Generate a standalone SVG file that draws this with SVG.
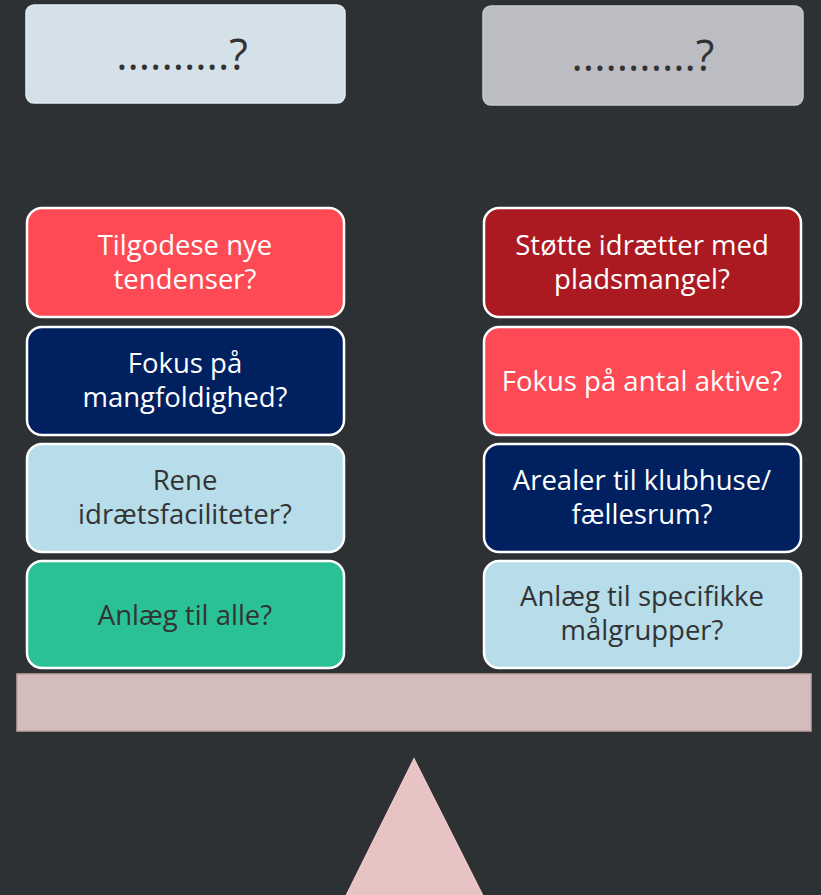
<svg xmlns="http://www.w3.org/2000/svg" width="821" height="895" viewBox="0 0 821 895">
<style>
.t{font-family:"Open Sans","Liberation Sans",sans-serif;font-size:27.5px;text-anchor:middle}
.w{fill:#ffffff}
.d{fill:#333333}
.box{stroke:#ffffff;stroke-width:2.5}
.top{font-family:"Open Sans","Liberation Sans",sans-serif;font-size:43px;text-anchor:middle;fill:#333333}
</style>
<rect width="821" height="895" fill="#2e3134"/>
<g id="top-left">
<rect x="26" y="5" width="319" height="98" rx="8" fill="#d5e1e8" stroke="#e4ecf1" stroke-width="1.5"/>
<text class="top" x="182" y="70">..........?</text>
</g>
<g id="top-right">
<rect x="483" y="6" width="320" height="99" rx="8" fill="#bcbdc2" stroke="#c8c9cd" stroke-width="1.5"/>
<text class="top" x="643" y="71">...........?</text>
</g>
<g id="l1">
<rect class="box" x="27" y="208" width="317" height="109" rx="15" fill="#fe4a54"/>
<text class="t w" x="185" y="255">Tilgodese nye</text>
<text class="t w" x="185" y="289">tendenser?</text>
</g>
<g id="l2">
<rect class="box" x="27" y="327" width="317" height="108" rx="15" fill="#002060"/>
<text class="t w" x="185" y="373">Fokus på</text>
<text class="t w" x="185" y="407">mangfoldighed?</text>
</g>
<g id="l3">
<rect class="box" x="27" y="444" width="317" height="108" rx="15" fill="#b6dde9"/>
<text class="t d" x="185" y="490">Rene</text>
<text class="t d" x="185" y="524">idrætsfaciliteter?</text>
</g>
<g id="l4">
<rect class="box" x="27" y="561" width="317" height="107" rx="15" fill="#2bc196"/>
<text class="t d" x="185" y="625">Anlæg til alle?</text>
</g>
<g id="r1">
<rect class="box" x="484" y="208" width="317" height="109" rx="15" fill="#ac1a21"/>
<text class="t w" x="642" y="255">Støtte idrætter med</text>
<text class="t w" x="642" y="289">pladsmangel?</text>
</g>
<g id="r2">
<rect class="box" x="484" y="327" width="317" height="108" rx="15" fill="#fe4a54"/>
<text class="t w" x="642" y="391">Fokus på antal aktive?</text>
</g>
<g id="r3">
<rect class="box" x="484" y="444" width="317" height="108" rx="15" fill="#002060"/>
<text class="t w" x="642" y="490">Arealer til klubhuse/</text>
<text class="t w" x="642" y="524">fællesrum?</text>
</g>
<g id="r4">
<rect class="box" x="484" y="561" width="317" height="107" rx="15" fill="#b6dde9"/>
<text class="t d" x="642" y="606">Anlæg til specifikke</text>
<text class="t d" x="642" y="640">målgrupper?</text>
</g>
<g id="beam">
<rect x="17" y="674" width="794" height="57" fill="#d3bdbc" stroke="#c4a3a3" stroke-width="1.5"/>
</g>
<g id="fulcrum">
<polygon points="414,759 346,896 483,896" fill="#e8c3c3" stroke="#f0c8c8" stroke-width="1.5"/>
</g>
<g id="connectors"></g>
</svg>
